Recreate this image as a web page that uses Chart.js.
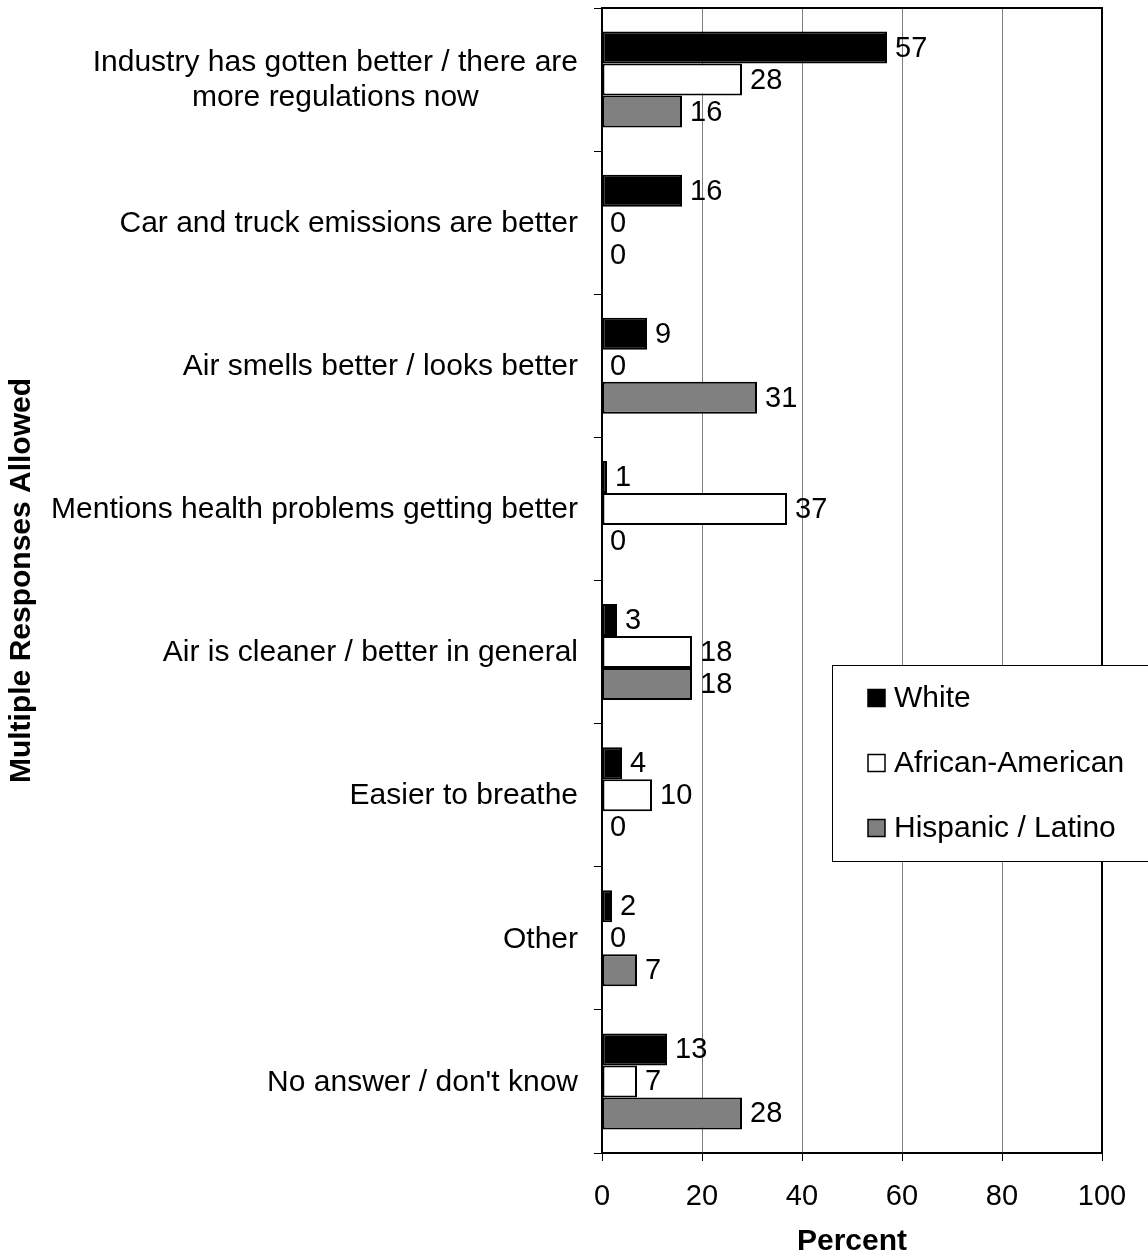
<!DOCTYPE html>
<html>
<head>
<meta charset="utf-8">
<script src="https://cdn.jsdelivr.net/npm/chart.js@4.4.1/dist/chart.umd.min.js"></script>
<style>
  html, body { margin: 0; padding: 0; background: #fff; }
  #wrap { width: 1148px; height: 1260px; }
</style>
</head>
<body>
<div id="wrap"><canvas id="c" width="1148" height="1260"></canvas></div>
<script>
const categories = [
  ["Industry has gotten better / there are", "more regulations now"],
  "Car and truck emissions are better",
  "Air smells better / looks better",
  "Mentions health problems getting better",
  "Air is cleaner / better in general",
  "Easier to breathe",
  "Other",
  "No answer / don't know"
];
const seriesNames = ["White", "African-American", "Hispanic / Latino"];
const whiteValues = [57, 16, 9, 1, 3, 4, 2, 13];
const africanAmericanValues = [28, 0, 0, 37, 18, 10, 0, 7];
const hispanicLatinoValues = [16, 0, 31, 0, 18, 0, 7, 28];
const xTickValues = [0, 20, 40, 60, 80, 100];
const xTitle = "Percent";
const yTitle = "Multiple Responses Allowed";

const FONT = "'Liberation Sans', Arial, sans-serif";
const FS_CAT = 30;
const FS_NUM = 29;
const FS_TITLE = 30;

const valueLabels = {
  id: 'valueLabels',
  afterDatasetsDraw(chart) {
    const ctx = chart.ctx;
    ctx.save();
    ctx.font = FS_NUM + "px " + FONT;
    ctx.fillStyle = '#000';
    ctx.textAlign = 'left';
    ctx.textBaseline = 'middle';
    chart.data.datasets.forEach((ds, di) => {
      const meta = chart.getDatasetMeta(di);
      meta.data.forEach((el, i) => {
        ctx.fillText(String(ds.data[i]), el.x + 8, el.y + 1);
      });
    });
    ctx.restore();
  }
};

const frameAndLabels = {
  id: 'frameAndLabels',
  afterDraw(chart) {
    const ctx = chart.ctx;
    const a = chart.chartArea;
    const ys = chart.scales.y;
    ctx.save();
    // top and right frame
    ctx.strokeStyle = '#000';
    ctx.lineWidth = 2;
    ctx.beginPath();
    ctx.moveTo(a.left - 1, a.top);
    ctx.lineTo(a.right, a.top);
    ctx.lineTo(a.right, a.bottom + 1);
    ctx.stroke();
    // category labels (multi-line centred on each other, block right-aligned)
    ctx.font = FS_CAT + "px " + FONT;
    ctx.fillStyle = '#000';
    ctx.textBaseline = 'middle';
    ctx.textAlign = 'center';
    const rightEdge = ys.right - 24;
    const lh = 35;
    chart.data.labels.forEach((lab, i) => {
      const lines = Array.isArray(lab) ? lab : [lab];
      const cy = ys.getPixelForTick(i);
      let maxW = 0;
      lines.forEach(l => { maxW = Math.max(maxW, ctx.measureText(l).width); });
      const cx = rightEdge - maxW / 2;
      const y0 = cy - (lines.length - 1) * lh / 2;
      lines.forEach((l, k) => ctx.fillText(l, cx, y0 + k * lh + 1));
    });
    // legend box
    const lx = 832, ly = 665, lw = 330, lhgt = 196;
    ctx.fillStyle = '#fff';
    ctx.fillRect(lx, ly, lw, lhgt);
    ctx.strokeStyle = '#000';
    ctx.lineWidth = 1;
    ctx.strokeRect(lx + 0.5, ly + 0.5, lw, lhgt);
    ctx.textAlign = 'left';
    ctx.font = FS_CAT + "px " + FONT;
    chart.data.datasets.forEach((ds, di) => {
      const cy = 698 + di * 65;
      ctx.fillStyle = ds.backgroundColor;
      ctx.fillRect(868, cy - 8.5, 17, 17);
      ctx.strokeStyle = '#000';
      ctx.lineWidth = 1.5;
      ctx.strokeRect(868, cy - 8.5, 17, 17);
      ctx.fillStyle = '#000';
      ctx.fillText(ds.label, 894, cy + 1);
    });
    ctx.restore();
  }
};

const mkDs = (label, data, bg) => ({
  label, data,
  backgroundColor: bg,
  borderColor: '#000',
  borderWidth: 2,
  borderSkipped: false,
  categoryPercentage: 0.67,
  barPercentage: 1.0
});

new Chart(document.getElementById('c'), {
  type: 'bar',
  data: {
    labels: categories,
    datasets: [
      mkDs(seriesNames[0], whiteValues, '#000000'),
      mkDs(seriesNames[1], africanAmericanValues, '#ffffff'),
      mkDs(seriesNames[2], hispanicLatinoValues, '#808080')
    ]
  },
  options: {
    indexAxis: 'y',
    responsive: false,
    animation: false,
    devicePixelRatio: 1,
    layout: { padding: { top: 8, right: 46, left: 0, bottom: 0 } },
    plugins: {
      legend: { display: false },
      tooltip: { enabled: false },
      title: { display: false }
    },
    scales: {
      x: {
        type: 'linear',
        min: 0, max: 100,
        afterBuildTicks: s => { s.ticks = xTickValues.map(v => ({ value: v })); },
        afterFit: s => { s.height = 107; },
        ticks: { font: { family: FONT, size: FS_NUM }, color: '#000', padding: 19 },
        grid: { color: '#808080', lineWidth: 1, tickColor: '#000', tickLength: 8 },
        border: { color: '#000', width: 2 },
        title: { display: true, text: xTitle, color: '#000', font: { family: FONT, size: FS_TITLE, weight: 'bold' }, padding: { top: 0, bottom: 0 } }
      },
      y: {
        afterFit: s => { s.width = 602; },
        ticks: { display: false },
        grid: { drawOnChartArea: false, tickColor: '#000', tickLength: 8, offset: true, lineWidth: 1 },
        border: { color: '#000', width: 2 },
        title: { display: true, text: yTitle, color: '#000', font: { family: FONT, size: FS_TITLE, weight: 'bold' }, padding: { top: 4, bottom: 0 } }
      }
    }
  },
  plugins: [valueLabels, frameAndLabels]
});
</script>
</body>
</html>
